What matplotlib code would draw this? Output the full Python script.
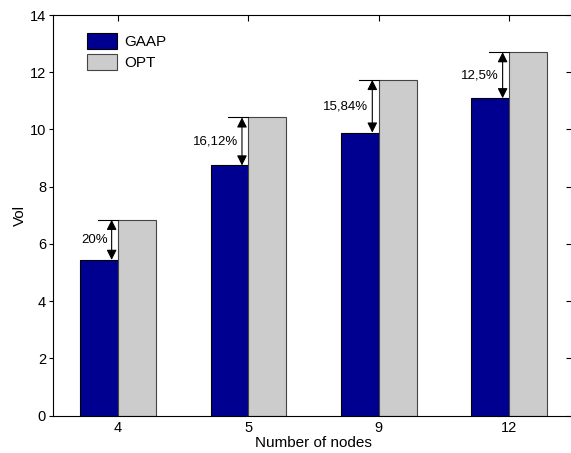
import numpy as np
import matplotlib.pyplot as plt

plt.rcParams['font.family'] = ['Liberation Sans', 'DejaVu Sans']

# data
nodes = ['4', '5', '9', '12']
gaap = [5.44, 8.74, 9.89, 11.09]
opt = [6.84, 10.42, 11.73, 12.70]
gap_labels = ['20%', '16,12%', '15,84%', '12,5%']

x = np.arange(1, len(nodes) + 1)
w = 0.29

fig = plt.figure(figsize=(5.71, 4.53), dpi=100)
ax = fig.add_axes([53 / 571, 37.5 / 453, 520 / 571, 400.5 / 453])
ax.set_axisbelow(True)

ax.bar(x - w / 2, gaap, w, color='#000090', edgecolor='black', linewidth=0.8, label='GAAP', zorder=2)
ax.bar(x + w / 2, opt, w, color='#cccccc', edgecolor='#444444', linewidth=0.8, label='OPT', zorder=2)

# arrows showing the gap between GAAP and OPT
for xi, g, o, lab in zip(x, gaap, opt, gap_labels):
    ax_x = xi - 0.05
    ax.plot([xi - 0.155, xi], [o, o], color='black', linewidth=0.8, zorder=3)
    ax.annotate('', xy=(ax_x, o), xytext=(ax_x, g),
                arrowprops=dict(arrowstyle='<|-|>', color='black', lw=0.8,
                                mutation_scale=15, shrinkA=0, shrinkB=0), zorder=3)
    ax.annotate(lab, xy=(ax_x, (g + o) / 2), xytext=(-3, 0), textcoords='offset points',
                ha='right', va='center', fontsize=9.5)

ax.set_xlim(0.5, 4.49)
ax.set_ylim(0, 14)
ax.set_xticks(x)
ax.set_xticklabels(nodes)
ax.set_yticks(np.arange(0, 15, 2))
ax.tick_params(axis='y', direction='out', length=3, labelsize=10.5, pad=2)
ax.tick_params(axis='x', direction='in', top=True, length=4, labelsize=10.5, pad=4)
ax.spines['right'].set_visible(False)

# ticks on the right, pointing in
right = ax.secondary_yaxis('right')
right.set_yticks(np.arange(0, 15, 2))
right.tick_params(direction='in', length=5, labelright=False)
right.spines['right'].set_visible(False)

ax.set_xlabel('Number of nodes', fontsize=11, labelpad=1)
ax.set_ylabel('Vol', fontsize=11, labelpad=2)

ax.legend(loc='upper left', bbox_to_anchor=(0.065, 0.955), frameon=False, fontsize=11,
          handlelength=2.0, handleheight=1.25, labelspacing=0.3, handletextpad=0.45,
          borderpad=0, borderaxespad=0)

fig.savefig('out.png', dpi=100)
